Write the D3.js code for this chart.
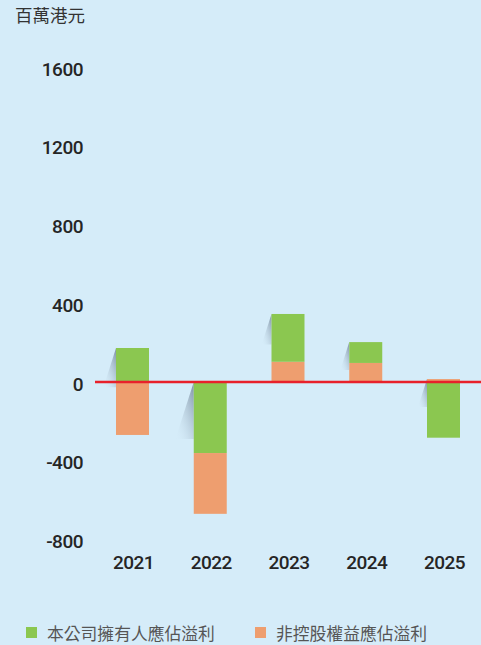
<!doctype html>
<html lang="zh-Hant">
<head>
  <meta charset="utf-8">
  <title>應佔溢利</title>
  <script src="https://d3js.org/d3.v7.min.js"></script>
  <style>
    html, body { margin: 0; padding: 0; background: #d5ecf9; }
    svg { display: block; }
    .tick-label { font-family: Roboto, "DejaVu Sans", sans-serif; font-weight: 500; font-size: 19px; letter-spacing: -0.5px; fill: #252525; }
    .cjk { font-family: "Noto Sans CJK TC", "Noto Sans CJK SC", sans-serif; }
  </style>
</head>
<body>
<div class="chart-container"></div>
<script>
  // data (百萬港元)
  const years = ['2021', '2022', '2023', '2024', '2025'];
  const ownersProfit = [173, -361, 243, 106, -283];      // 本公司擁有人應佔溢利
  const minorityProfit = [-269, -309, 103, 97, 15];      // 非控股權益應佔溢利
  const yTicks = [-800, -400, 0, 400, 800, 1200, 1600];
  const seriesNames = ['本公司擁有人應佔溢利', '非控股權益應佔溢利'];
  const seriesColours = ['#8bc750', '#ee9e6f'];

  const width = 481;
  const height = 645;

  const svg = d3.select('.chart-container').append('svg')
    .attr('width', width)
    .attr('height', height);

  svg.append('rect')
    .attr('width', width)
    .attr('height', height)
    .attr('fill', '#d5ecf9');

  const x = d3.scalePoint()
    .domain(years)
    .range([132.5, 443.5]);
  const barWidth = 33;

  const y = d3.scaleLinear()
    .domain([-800, 1600])
    .range([539.4, 67.3]);

  // shadow gradient
  const defs = svg.append('defs');
  const grad = defs.append('linearGradient')
    .attr('id', 'shadowGrad')
    .attr('x1', 1).attr('y1', 0)
    .attr('x2', 0).attr('y2', 1);
  grad.append('stop').attr('offset', 0).attr('stop-color', '#74869a').attr('stop-opacity', 0.9);
  grad.append('stop').attr('offset', 1).attr('stop-color', '#d5ecf9').attr('stop-opacity', 0);

  // title
  svg.append('text')
    .attr('class', 'cjk')
    .attr('x', 15)
    .attr('y', 22)
    .attr('font-size', 17.5)
    .attr('fill', '#333')
    .text('百萬港元');

  // y axis labels
  svg.append('g')
    .selectAll('text')
    .data(yTicks)
    .join('text')
    .attr('class', 'tick-label')
    .attr('x', 83)
    .attr('y', d => y(d) + 2)
    .attr('text-anchor', 'end')
    .attr('dominant-baseline', 'central')
    .text(d => d);

  // stacked segments: positives orange then green, negatives green then orange
  const segments = [];
  years.forEach((yr, i) => {
    const vals = [ownersProfit[i], minorityProfit[i]];
    let pos = 0, neg = 0;
    [1, 0].forEach(k => {
      if (vals[k] > 0) { segments.push({ year: yr, k, y0: pos, y1: pos + vals[k] }); pos += vals[k]; }
    });
    [0, 1].forEach(k => {
      if (vals[k] < 0) { segments.push({ year: yr, k, y0: neg, y1: neg + vals[k] }); neg += vals[k]; }
    });
  });

  // shadows next to each bar
  const shadows = years.map(yr => {
    const segs = segments.filter(s => s.year === yr);
    const top = d3.min(segs, s => y(Math.max(s.y0, s.y1)));
    const bottom = d3.max(segs, s => y(Math.min(s.y0, s.y1)));
    const h = Math.max(28, Math.min(57, (bottom - top) * 0.45));
    return { year: yr, top, h };
  });

  svg.append('g')
    .selectAll('path')
    .data(shadows)
    .join('path')
    .attr('d', d => {
      const x0 = x(d.year) - barWidth / 2;
      return `M${x0},${d.top} L${x0},${d.top + d.h} L${x0 - d.h * 0.32},${d.top + d.h} Z`;
    })
    .attr('fill', 'url(#shadowGrad)');

  svg.append('g')
    .selectAll('rect')
    .data(segments)
    .join('rect')
    .attr('x', d => x(d.year) - barWidth / 2)
    .attr('width', barWidth)
    .attr('y', d => y(Math.max(d.y0, d.y1)))
    .attr('height', d => Math.abs(y(d.y0) - y(d.y1)))
    .attr('fill', d => seriesColours[d.k]);

  // zero line
  svg.append('line')
    .attr('x1', 95)
    .attr('x2', width)
    .attr('y1', y(0))
    .attr('y2', y(0))
    .attr('stroke', '#e8212b')
    .attr('stroke-width', 2.5);

  // x labels
  svg.append('g')
    .selectAll('text')
    .data(years)
    .join('text')
    .attr('class', 'tick-label')
    .attr('x', d => x(d) + 1)
    .attr('y', 569)
    .attr('text-anchor', 'middle')
    .text(d => d);

  // legend
  const legendX = [26, 255];
  const legend = svg.append('g')
    .selectAll('g')
    .data(seriesNames)
    .join('g')
    .attr('transform', (d, i) => `translate(${legendX[i]}, 627)`);

  legend.append('rect')
    .attr('width', 11)
    .attr('height', 11)
    .attr('fill', (d, i) => seriesColours[i]);

  legend.append('text')
    .attr('class', 'cjk')
    .attr('x', 21)
    .attr('y', 6)
    .attr('dominant-baseline', 'central')
    .attr('font-size', 16.8)
    .attr('fill', '#555')
    .text(d => d);
</script>
</body>
</html>
